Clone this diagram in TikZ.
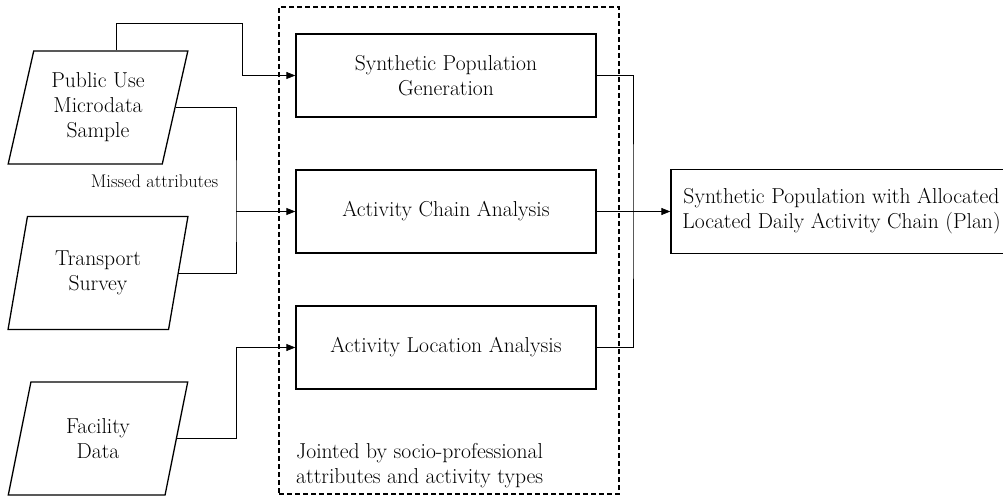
\documentclass[tikz,border=0pt]{standalone}
\usepackage{fontspec}
\usetikzlibrary{shapes.geometric,arrows.meta,calc}
\begin{document}
\begin{tikzpicture}[x=1pt,y=-1pt,
  every node/.style={font=\fontsize{21.6}{25}\selectfont},
  proc/.style={draw, line width=1.3pt, minimum width=300pt, minimum height=83pt, inner sep=0pt, align=center},
  data/.style={draw, line width=1.3pt, trapezium, trapezium left angle=75, trapezium right angle=105, trapezium stretches=true, minimum width=180pt, minimum height=113pt, inner sep=0pt, align=center},
  conn/.style={line width=0.8pt},
  arr/.style={conn, -{Triangle[length=9pt,width=7pt]}}
]
\useasboundingbox (0,0) rectangle (1003,497);
\node[data] (pums) at (98,107.5) {Public Use\\Microdata\\Sample};
\node[data] (ts) at (98,273) {Transport\\Survey};
\node[data] (fd) at (98,438.5) {Facility\\Data};
\node[draw, dash pattern=on 5pt off 3pt, line width=1.1pt, minimum width=340pt, minimum height=487pt, inner sep=0pt] (grp) at (449,250.5) {};
\node[proc] (spg) at (446,75.5) {Synthetic Population\\Generation};
\node[proc] (aca) at (446,211.5) {Activity Chain Analysis};
\node[proc] (ala) at (446,347.5) {Activity Location Analysis};
\node[proc, minimum width=341pt, minimum height=84pt] (out) at (841.5,211.5) {Synthetic Population with Allocated\\Located Daily Activity Chain (Plan)};
\node[font=\fontsize{18.3}{21}\selectfont, anchor=base, inner sep=0pt] (miss) at (154.5,188) {Missed attributes};
\node[align=left, anchor=base west, inner sep=0pt] (note) at (296,483) {Jointed by socio-professional\\attributes and activity types};
\coordinate (tb) at (242,23);
\coordinate (lb) at (236,211.5);
\coordinate (fb) at (236,347.5);
\coordinate (rb) at (633,211.5);
\draw[arr] ($(pums.north)+(18,0)$) |- (tb) |- (spg.west);
\draw[conn] (pums.east) -| (lb) |- (ts.east);
\draw[arr] (lb) -- (aca.west);
\draw[arr] (fd.east) -| (fb) -- (ala.west);
\draw[conn] (spg.east) -| (rb) |- (ala.east);
\draw[conn] (aca.east) -- (rb);
\draw[arr] (rb) -- (out.west);
\end{tikzpicture}
\end{document}
